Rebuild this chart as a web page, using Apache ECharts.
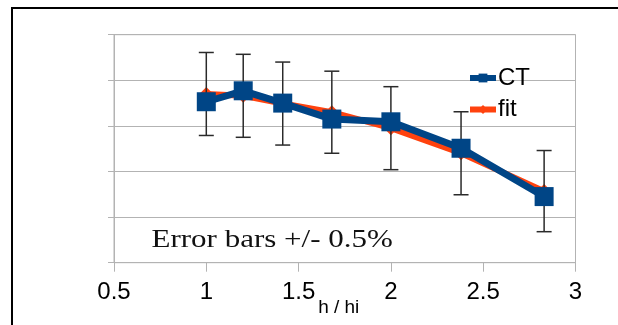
<!DOCTYPE html>
<html>
<head>
<meta charset="utf-8">
<script src="https://cdn.jsdelivr.net/npm/echarts@6/dist/echarts.min.js"></script>
<style>
html,body{margin:0;padding:0;background:#fff;}
#chart{width:618px;height:325px;}
</style>
</head>
<body>
<div id="chart"></div>
<script>
// h / hi ratios
var xValues = [1, 1.2, 1.414, 1.68, 2, 2.38, 2.83];
// CT series (arbitrary units, gridline step = 1)
var ctValues = [3.53, 3.77, 3.50, 3.15, 3.09, 2.51, 1.45];
// fit series
var fitValues = [3.70, 3.66, 3.49, 3.30, 2.95, 2.40, 1.57];
// error half-length (+/- 0.5%)
var errValues = [0.91, 0.91, 0.91, 0.90, 0.91, 0.91, 0.89];
var xTicks = [0.5, 1, 1.5, 2, 2.5, 3];
var seriesNames = ['CT', 'fit'];
var xName = 'h / hi';
var noteText = 'Error bars +/- 0.5%';

var ctData = xValues.map(function (x, i) { return [x, ctValues[i]]; });
var fitData = xValues.map(function (x, i) { return [x, fitValues[i]]; });
var errData = xValues.map(function (x, i) { return [x, fitValues[i] - errValues[i], fitValues[i] + errValues[i]]; });

var chart = echarts.init(document.getElementById('chart'), null, {renderer: 'canvas'});
var sans = 'Liberation Sans, Arial, sans-serif';
chart.setOption({
  animation: false,
  backgroundColor: '#ffffff',
  grid: {left: 114, right: 42.5, top: 34.7, bottom: 62.3, show: true, borderColor: '#b3b3b3', borderWidth: 1,
         containLabel: false, outerBoundsMode: 'none'},
  legend: {
    orient: 'vertical', left: 467, top: 66, padding: 0, itemGap: 7.5, itemWidth: 26, itemHeight: 11,
    data: seriesNames,
    lineStyle: {width: 6},
    textStyle: {fontSize: 24, color: '#000', fontFamily: sans, padding: [0, 0, 0, -3]}
  },
  xAxis: {
    type: 'value', min: xTicks[0], max: xTicks[xTicks.length - 1], interval: 0.5,
    name: xName, nameLocation: 'middle', nameGap: 36, nameMoveOverlap: false,
    nameTextStyle: {fontSize: 19, color: '#000', fontFamily: sans, padding: [0, 12, 0, 0], verticalAlign: 'top'},
    axisLine: {show: true, lineStyle: {color: '#b3b3b3', width: 1}},
    axisTick: {show: true, length: 9, lineStyle: {color: '#b3b3b3'}},
    axisLabel: {fontSize: 24, color: '#000', fontFamily: sans, margin: 18},
    splitLine: {show: false}
  },
  yAxis: {
    type: 'value', min: 0, max: 5, interval: 1,
    axisLine: {show: true, lineStyle: {color: '#b3b3b3', width: 1}},
    axisTick: {show: true, length: 6, lineStyle: {color: '#b3b3b3'}},
    axisLabel: {show: false},
    splitLine: {show: true, lineStyle: {color: '#b3b3b3', width: 1}}
  },
  graphic: [
    {type: 'rect', silent: true, shape: {x: 12, y: 8, width: 640, height: 340},
     style: {fill: null, stroke: '#000', lineWidth: 2}},
    {type: 'text', x: 151.5, y: 240, scaleX: 1.24, z: 10,
     style: {text: noteText, x: 0, y: 0, fill: '#111', font: '25px "Liberation Serif", "Times New Roman", serif', textAlign: 'left', textVerticalAlign: 'middle'}}
  ],
  series: [
    {
      name: 'fit', type: 'line', data: fitData, z: 2,
      symbol: 'diamond', symbolSize: 14,
      lineStyle: {color: '#ff420e', width: 6},
      itemStyle: {color: '#ff420e'}
    },
    {
      name: 'err', type: 'custom', data: errData, z: 3,
      renderItem: function (params, api) {
        var x = api.value(0);
        var lo = api.coord([x, api.value(1)]);
        var hi = api.coord([x, api.value(2)]);
        var hw = 7.5;
        var st = {stroke: '#2a2a2a', lineWidth: 1.5};
        return {type: 'group', children: [
          {type: 'line', shape: {x1: lo[0], y1: lo[1], x2: hi[0], y2: hi[1]}, style: st},
          {type: 'line', shape: {x1: lo[0] - hw, y1: lo[1], x2: lo[0] + hw, y2: lo[1]}, style: st},
          {type: 'line', shape: {x1: hi[0] - hw, y1: hi[1], x2: hi[0] + hw, y2: hi[1]}, style: st}
        ]};
      }
    },
    {
      name: 'CT', type: 'line', data: ctData, z: 4,
      symbol: 'rect', symbolSize: 19,
      lineStyle: {color: '#004586', width: 7},
      itemStyle: {color: '#004586'}
    }
  ]
});
</script>
</body>
</html>
